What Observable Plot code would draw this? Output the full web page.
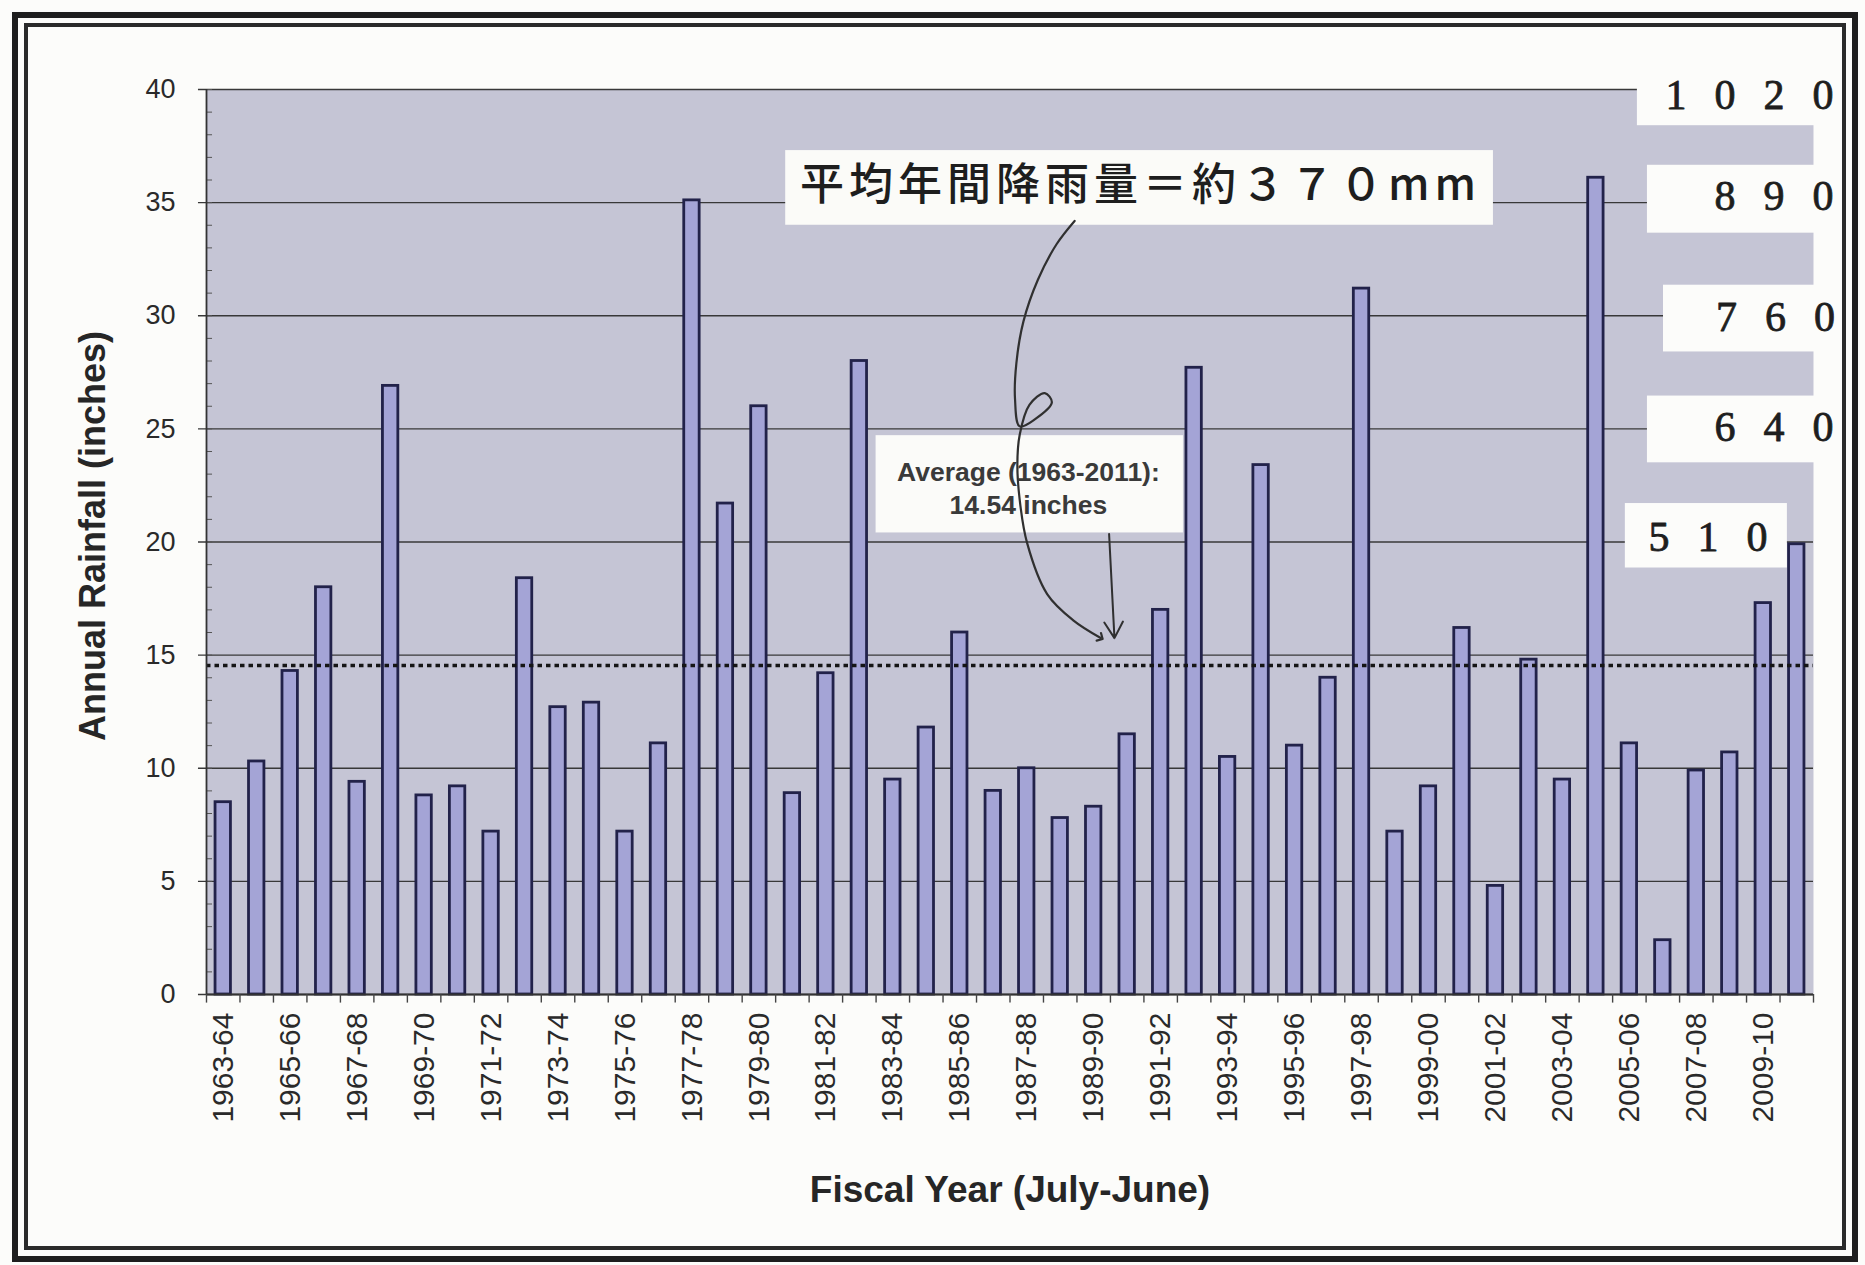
<!DOCTYPE html>
<html><head><meta charset="utf-8">
<script src="https://cdn.jsdelivr.net/npm/d3@7"></script>
<script src="https://cdn.jsdelivr.net/npm/@observablehq/plot@0.6"></script>
<style>
html,body{margin:0;padding:0;background:#fff;}
#wrap{position:relative;width:1865px;height:1265px;overflow:hidden;background:#fcfcfa;}
#wrap svg{position:absolute;left:0;top:0;}
.fo{position:absolute;left:12px;top:12px;width:1846px;height:1250px;border:6px solid #1e1e1e;box-sizing:border-box;}
.fi{position:absolute;left:24px;top:23px;width:1822px;height:1227px;border:4px solid #2a2a2a;box-sizing:border-box;}
</style></head>
<body><div id="wrap"><div class="fo"></div><div class="fi"></div></div>
<script>
const categories = ["1963-64","1964-65","1965-66","1966-67","1967-68","1968-69","1969-70","1970-71","1971-72","1972-73","1973-74","1974-75","1975-76","1976-77","1977-78","1978-79","1979-80","1980-81","1981-82","1982-83","1983-84","1984-85","1985-86","1986-87","1987-88","1988-89","1989-90","1990-91","1991-92","1992-93","1993-94","1994-95","1995-96","1996-97","1997-98","1998-99","1999-00","2000-01","2001-02","2002-03","2003-04","2004-05","2005-06","2006-07","2007-08","2008-09","2009-10","2010-11"];
const rainfall = [8.5,10.3,14.3,18.0,9.4,26.9,8.8,9.2,7.2,18.4,12.7,12.9,7.2,11.1,35.1,21.7,26.0,8.9,14.2,28.0,9.5,11.8,16.0,9.0,10.0,7.8,8.3,11.5,17.0,27.7,10.5,23.4,11.0,14.0,31.2,7.2,9.2,16.2,4.8,14.8,9.5,36.1,11.1,2.4,9.9,10.7,17.3,19.9];
const yTicks = [0,5,10,15,20,25,30,35,40];
const average = 14.54;
const mmInches = [40,35,30,25,20];
const mmLabels = ["1020","890","760","640","510"];
const averageLabel = ["Average (1963-2011):","14.54 inches"];
const jpLabel = "平均年間降雨量＝約３７０mm";
const yTitle = "Annual Rainfall (inches)";
const xTitle = "Fiscal Year (July-June)";

// annotation geometry (data units: x = category index, y = inches)
const mmBoxes = [
  {x1:42.74,x2:48.95,y1:38.4,y2:41.3,tx:49.43,ty:39.75},
  {x1:43.04,x2:48.95,y1:33.65,y2:36.65,tx:49.43,ty:35.25},
  {x1:43.52,x2:48.95,y1:28.4,y2:31.35,tx:49.48,ty:29.9},
  {x1:43.04,x2:48.95,y1:23.5,y2:26.45,tx:49.43,ty:25.05},
  {x1:42.38,x2:47.22,y1:18.85,y2:21.7,tx:47.46,ty:20.2}
];
const jpBox = {x1:17.3,x2:38.44,y1:34.0,y2:37.3,tx:27.9,ty:35.75};
const avgBox = {x1:20.0,x2:29.18,y1:20.4,y2:24.7,tx:24.55,ty1:23.05,ty2:21.6};
const handCurve = [[25.93,34.19],[25.39,33.16],[24.83,31.58],[24.4,29.74],[24.19,27.9],[24.15,26.32],[24.29,25.11],[24.75,25.43],[25.25,26.17],[25.04,26.58],[24.58,26.06],[24.29,24.74],[24.22,23.43],[24.29,21.86],[24.51,19.96],[25.11,17.7],[25.89,16.54],[26.71,15.76]];
const straightArrow = {x1:26.96,y1:20.35,x2:27.12,y2:15.75};

const rows = rainfall.map((v,i)=>({i, cat:categories[i], v}));
const labelRows = rows.filter(d=>d.i%2===0);
const sans = "'Liberation Sans', Arial, sans-serif";

const chart = Plot.plot({
  width:1865, height:1265,
  marginLeft:206, marginRight:52, marginTop:89, marginBottom:271,
  x:{type:"linear", domain:[0,48], axis:null},
  y:{domain:[0,40], axis:null},
  style:{background:"transparent", color:"#2e2e2e", fontFamily:sans},
  marks:[
    Plot.frame({fill:"#c5c5d5", stroke:null}),
    Plot.ruleY(yTicks, {x1:-0.24, x2:48, stroke:"#383838", strokeWidth:1.4}),
    Plot.ruleY(d3.range(0,41), {x1:0, x2:0.18, stroke:"#555", strokeWidth:1}),
    Plot.rectY(rows, {x1:d=>d.i+0.27, x2:d=>d.i+0.73, y:"v", fill:"#a4a4d6", stroke:"#22224a", strokeWidth:2.8}),
    Plot.ruleY([average], {x1:0, x2:48, stroke:"#151515", strokeWidth:3.5, strokeDasharray:"4.5,4"}),
    Plot.ruleY([0], {x1:0, x2:48, stroke:"#333", strokeWidth:1.8}),
    Plot.ruleX([0], {y1:0, y2:40, stroke:"#333", strokeWidth:1.8}),
    Plot.ruleX(d3.range(0,49), {y1:0, y2:-0.38, stroke:"#444", strokeWidth:1.4}),
    Plot.text(yTicks, {x:0, y:d=>d, text:d=>String(d), textAnchor:"end", dx:-31, fontSize:27, fill:"#2a2a2a"}),
    Plot.text(labelRows, {x:d=>d.i+0.5, y:0, text:"cat", rotate:-90, textAnchor:"end", dy:18, fontSize:30, fill:"#2a2a2a"}),
    Plot.text([yTitle], {frameAnchor:"left", textAnchor:"middle", lineAnchor:"middle", dx:-113, dy:-6, rotate:-90, fontSize:36, fontWeight:"bold", fill:"#262626"}),
    Plot.text([xTitle], {frameAnchor:"bottom", textAnchor:"middle", lineAnchor:"middle", dy:196, fontSize:37, fontWeight:"bold", fill:"#262626"}),
    // pasted Japanese note
    Plot.rect([jpBox], {x1:"x1", x2:"x2", y1:"y1", y2:"y2", fill:"#fbfbf8"}),
    Plot.text([jpBox], {x:"tx", y:"ty", text:()=>jpLabel, fontSize:44, fontWeight:500, fill:"#1e1e1e", fontFamily:"'Noto Sans CJK JP', sans-serif"}),
    // average label box
    Plot.rect([avgBox], {x1:"x1", x2:"x2", y1:"y1", y2:"y2", fill:"#fbfbf9"}),
    Plot.text([avgBox], {x:"tx", y:"ty1", text:()=>averageLabel[0], fontSize:26.5, fontWeight:"bold", fill:"#3a3a3a"}),
    Plot.text([avgBox], {x:"tx", y:"ty2", text:()=>averageLabel[1], fontSize:26.5, fontWeight:"bold", fill:"#3a3a3a"}),
    // hand-drawn arrows
    Plot.line(handCurve, {x:d=>d[0], y:d=>d[1], curve:"catmull-rom", stroke:"#303030", strokeWidth:2.2, markerEnd:"arrow"}),
    Plot.arrow([straightArrow], {x1:"x1", y1:"y1", x2:"x2", y2:"y2", stroke:"#303030", strokeWidth:2, headLength:14}),
    // mm conversion labels
    Plot.rect(mmBoxes, {x1:"x1", x2:"x2", y1:"y1", y2:"y2", fill:"#fcfcfa"}),
    Plot.text(mmBoxes, {x:"tx", y:"ty", text:(d,i)=>mmLabels[i], textAnchor:"end", fontSize:42, fill:"#1e1e1e", stroke:"#1e1e1e", strokeWidth:0.8, fontFamily:"'Liberation Serif', 'DejaVu Serif', serif"})
  ]
});
document.getElementById("wrap").insertBefore(chart, document.querySelector(".fo"));
d3.select(chart).selectAll("text")
  .filter(function(){ return mmLabels.includes(this.textContent); })
  .style("letter-spacing","28px");
d3.select(chart).selectAll("text")
  .filter(function(){ return this.textContent === jpLabel; })
  .style("letter-spacing","5px");
</script>
</body></html>
